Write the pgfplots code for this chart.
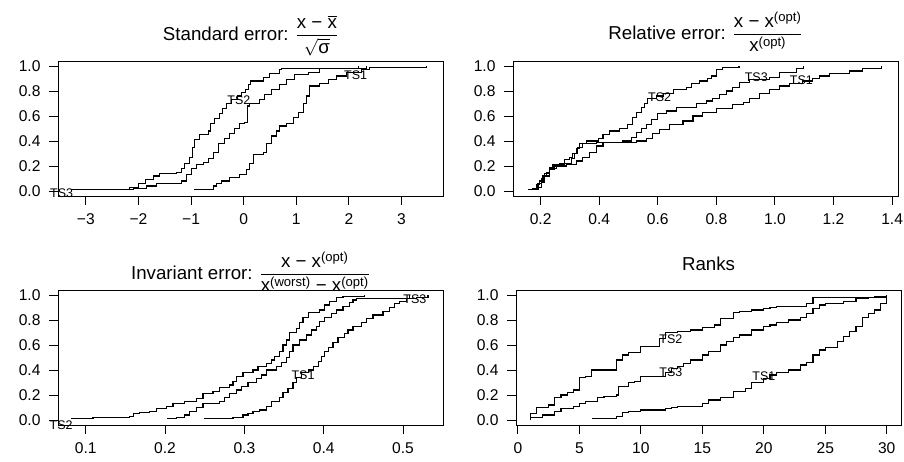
\documentclass[border=0pt]{standalone}
\usepackage{pgfplots}
\pgfplotsset{compat=1.18}
\usepackage{amsmath}
\usepackage{fontspec}
\setmainfont{Liberation Sans}
\newcommand{\tf}{\fontsize{18.7bp}{22bp}\selectfont}
\newcommand{\ff}{\fontsize{15.6bp}{18bp}\selectfont}
\newcommand{\lf}{\fontsize{12.5bp}{14bp}\selectfont}
\newcommand{\tx}[1]{\text{#1}}
\tikzset{
  lbl/.style={font=\lf, inner sep=0pt},
  ttl/.style={font=\tf, anchor=base, inner sep=0pt},
}
\pgfplotsset{
  rpanel/.style={
    scale only axis, width=385bp, height=135bp, anchor=north west,
    clip=false,
    axis line style={line width=1bp},
    tick align=outside, major tick length=9bp,
    xtick pos=left, ytick pos=left,
    tick style={black, line width=1bp},
    minor tick num=0,
    ymin=-0.04, ymax=1.04,
    ytick={0,0.2,0.4,0.6,0.8,1},
    yticklabels={0.0,0.2,0.4,0.6,0.8,1.0},
    tick label style={font=\ff},
    yticklabel style={xshift=-5bp},
    xticklabel style={yshift=-5bp},
  },
  ecdf/.style={black, const plot, line width=1.1bp, mark=none},
}
\begin{document}
\begin{tikzpicture}
\path[use as bounding box] (0bp,0bp) rectangle (904bp,-462bp);
% ---------------- Panel 1
\begin{axis}[rpanel, at={(58bp,-61bp)},
  xmin=-3.53, xmax=3.79,
  xtick={-3,-2,-1,0,1,2,3},
  xticklabels={−3,−2,−1,0,1,2,3}]
\addplot[ecdf] coordinates {
(-3.286,0.01)(-2.164,0.03)(-2.006,0.06)(-1.866,0.09)(-1.721,0.12)(-1.594,0.14)
(-1.277,0.15)(-1.182,0.18)(-1.119,0.22)(-1.036,0.27)(-0.973,0.35)(-0.928,0.41)
(-0.833,0.45)(-0.675,0.48)(-0.624,0.54)(-0.548,0.58)(-0.453,0.62)(-0.402,0.66)
(-0.326,0.70)(-0.231,0.73)(-0.124,0.76)(-0.041,0.79)(0.041,0.81)(0.086,0.85)
(0.130,0.88)(0.371,0.91)(0.497,0.94)(0.688,0.97)(0.719,0.98)(2.335,1.0)};
\addplot[ecdf] coordinates {
(-2.608,0.01)(-2.101,0.02)(-1.847,0.04)(-1.657,0.06)(-1.182,0.08)(-1.087,0.13)
(-0.992,0.18)(-0.897,0.21)(-0.770,0.23)(-0.675,0.26)(-0.580,0.31)(-0.485,0.38)
(-0.358,0.42)(-0.263,0.46)(-0.168,0.50)(-0.073,0.54)(0.022,0.55)(0.067,0.68)
(0.117,0.70)(0.307,0.73)(0.402,0.77)(0.529,0.81)(0.688,0.85)(0.814,0.89)
(0.973,0.93)(1.226,0.95)(1.448,0.98)(2.177,1.0)};
\addplot[ecdf] coordinates {
(-0.941,0.01)(-0.580,0.04)(-0.516,0.06)(-0.421,0.08)(-0.263,0.11)(-0.073,0.13)
(0.054,0.17)(0.117,0.22)(0.181,0.29)(0.371,0.31)(0.434,0.38)(0.529,0.44)
(0.624,0.48)(0.675,0.52)(0.814,0.54)(0.941,0.59)(1.036,0.63)(1.131,0.70)
(1.195,0.76)(1.258,0.84)(1.448,0.86)(1.606,0.89)(1.765,0.92)(1.955,0.95)
(2.240,0.97)(2.398,0.99)(3.476,1.0)};
\node[lbl] at (axis cs:-3.46,-0.02) {TS3};
\node[lbl] at (axis cs:-0.09,0.73) {TS2};
\node[lbl] at (axis cs:2.13,0.93) {TS1};
\node[ttl, yshift=21bp] at (rel axis cs:0.5,1) {Standard error: $\dfrac{\tx{x − }\overline{\tx{x}}}{\rule{0pt}{14bp}\sqrt{\tx{σ}}}$};
\end{axis}
% ---------------- Panel 2
\begin{axis}[rpanel, at={(513bp,-61bp)},
  xmin=0.1056, xmax=1.42,
  xtick={0.2,0.4,0.6,0.8,1.0,1.2,1.4},
  xticklabels={0.2,0.4,0.6,0.8,1.0,1.2,1.4}]
\addplot[ecdf] coordinates {
(0.157,0.01)(0.174,0.02)(0.185,0.05)(0.197,0.08)(0.208,0.12)(0.219,0.15)
(0.231,0.19)(0.242,0.21)(0.265,0.22)(0.282,0.25)(0.299,0.27)(0.310,0.30)
(0.322,0.34)(0.333,0.38)(0.356,0.40)(0.396,0.42)(0.413,0.45)(0.436,0.48)
(0.470,0.50)(0.498,0.53)(0.513,0.59)(0.527,0.63)(0.544,0.67)(0.555,0.70)
(0.566,0.74)(0.595,0.76)(0.618,0.78)(0.652,0.81)(0.697,0.83)(0.714,0.86)
(0.743,0.88)(0.771,0.90)(0.782,0.92)(0.800,0.97)(0.822,0.99)(0.877,1.0)};
\addplot[ecdf] coordinates {
(0.157,0.01)(0.180,0.02)(0.191,0.06)(0.202,0.10)(0.214,0.14)(0.231,0.18)
(0.253,0.21)(0.282,0.22)(0.305,0.26)(0.316,0.30)(0.327,0.35)(0.344,0.38)
(0.390,0.39)(0.481,0.40)(0.509,0.43)(0.527,0.47)(0.544,0.50)(0.561,0.53)
(0.578,0.57)(0.600,0.62)(0.629,0.64)(0.663,0.67)(0.731,0.70)(0.765,0.72)
(0.788,0.74)(0.811,0.77)(0.834,0.80)(0.856,0.83)(0.879,0.87)(0.913,0.89)
(0.982,0.91)(1.016,0.95)(1.073,0.98)(1.098,1.0)};
\addplot[ecdf] coordinates {
(0.157,0.01)(0.191,0.03)(0.202,0.07)(0.214,0.12)(0.231,0.17)(0.248,0.20)
(0.288,0.21)(0.322,0.24)(0.344,0.27)(0.367,0.31)(0.390,0.36)(0.413,0.39)
(0.527,0.40)(0.561,0.42)(0.583,0.46)(0.606,0.49)(0.640,0.53)(0.686,0.56)
(0.720,0.60)(0.754,0.63)(0.800,0.66)(0.856,0.69)(0.891,0.71)(0.913,0.74)
(0.947,0.78)(0.982,0.81)(1.016,0.84)(1.050,0.86)(1.095,0.88)(1.129,0.90)
(1.152,0.92)(1.186,0.94)(1.255,0.96)(1.300,0.98)(1.365,1.0)};
\node[lbl] at (axis cs:0.606,0.75) {TS2};
\node[lbl] at (axis cs:0.936,0.91) {TS3};
\node[lbl] at (axis cs:1.09,0.89) {TS1};
\node[ttl, yshift=22bp] at (rel axis cs:0.5,1) {Relative error: $\dfrac{\tx{x − x}^{\tx{(opt)}}}{\rule{0pt}{14bp}\tx{x}^{\tx{(opt)}}}$};
\end{axis}
% ---------------- Panel 3
\begin{axis}[rpanel, at={(58bp,-290bp)},
  xmin=0.0651, xmax=0.5504,
  xtick={0.1,0.2,0.3,0.4,0.5},
  xticklabels={0.1,0.2,0.3,0.4,0.5}]
\addplot[ecdf] coordinates {
(0.0811,0.01)(0.1092,0.02)(0.1555,0.03)(0.1597,0.05)(0.1681,0.06)(0.1807,0.07)
(0.1891,0.09)(0.2017,0.11)(0.2101,0.13)(0.2248,0.15)(0.2395,0.17)(0.2479,0.21)
(0.2605,0.23)(0.2689,0.26)(0.2815,0.28)(0.2857,0.31)(0.2899,0.35)(0.2983,0.38)
(0.3109,0.40)(0.3172,0.43)(0.3277,0.45)(0.3340,0.48)(0.3382,0.51)(0.3445,0.55)
(0.3487,0.60)(0.3529,0.64)(0.3571,0.70)(0.3655,0.73)(0.3697,0.78)(0.3739,0.82)
(0.3803,0.86)(0.3950,0.88)(0.4013,0.92)(0.4076,0.95)(0.4160,0.98)(0.4244,0.99)
(0.4517,1.0)};
\addplot[ecdf] coordinates {
(0.2025,0.01)(0.2143,0.02)(0.2248,0.04)(0.2311,0.07)(0.2395,0.10)(0.2479,0.13)
(0.2689,0.15)(0.2752,0.18)(0.2815,0.21)(0.2899,0.24)(0.2962,0.27)(0.3046,0.30)
(0.3151,0.33)(0.3214,0.36)(0.3277,0.40)(0.3403,0.43)(0.3466,0.46)(0.3529,0.50)
(0.3571,0.55)(0.3613,0.60)(0.3697,0.64)(0.3782,0.68)(0.3845,0.72)(0.3908,0.75)
(0.3950,0.79)(0.4013,0.82)(0.4097,0.85)(0.4160,0.88)(0.4244,0.91)(0.4328,0.94)
(0.4370,0.96)(0.4412,0.97)(0.5084,1.0)};
\addplot[ecdf] coordinates {
(0.2492,0.01)(0.2857,0.02)(0.2983,0.04)(0.3046,0.05)(0.3109,0.07)(0.3193,0.08)
(0.3277,0.11)(0.3340,0.15)(0.3445,0.18)(0.3487,0.22)(0.3550,0.25)(0.3613,0.30)
(0.3655,0.34)(0.3718,0.38)(0.3803,0.40)(0.3866,0.43)(0.3929,0.47)(0.3971,0.51)
(0.4013,0.55)(0.4055,0.58)(0.4118,0.62)(0.4181,0.66)(0.4265,0.69)(0.4307,0.72)
(0.4370,0.75)(0.4475,0.78)(0.4538,0.81)(0.4622,0.84)(0.4748,0.87)(0.4832,0.90)
(0.4895,0.93)(0.4958,0.95)(0.5042,0.97)(0.5168,0.98)(0.5315,1.0)};
\node[lbl] at (axis cs:0.069,-0.04) {TS2};
\node[lbl] at (axis cs:0.374,0.36) {TS1};
\node[lbl] at (axis cs:0.515,0.97) {TS3};
\node[ttl, yshift=11bp] at (rel axis cs:0.5,1) {Invariant error: $\dfrac{\tx{x − x}^{\tx{(opt)}}}{\tx{x}^{\tx{(worst)}}\tx{ − x}^{\tx{(opt)}}}$};
\end{axis}
% ---------------- Panel 4
\begin{axis}[rpanel, at={(516bp,-290bp)},
  xmin=-0.16, xmax=31.16,
  xtick={0,5,10,15,20,25,30},
  xticklabels={0,5,10,15,20,25,30}]
\addplot[ecdf] coordinates {
(1,0.01)(1,0.05)(1.5,0.10)(2.5,0.12)(3,0.18)(3.5,0.20)(4,0.22)(4.5,0.24)
(5,0.34)(5.5,0.35)(6,0.40)(8,0.48)(8.5,0.52)(9,0.54)(10,0.59)(11.5,0.65)
(12,0.70)(13,0.71)(14,0.72)(15,0.74)(16,0.76)(16.5,0.81)(17.5,0.86)(18,0.87)
(19,0.88)(20,0.89)(20.5,0.90)(21,0.91)(23.5,0.93)(24,0.98)(29,0.99)(30,1.0)};
\addplot[ecdf] coordinates {
(1,0.00)(1,0.02)(2,0.04)(3,0.07)(3.5,0.09)(4.5,0.11)(5,0.13)(5.5,0.15)
(6.5,0.18)(7,0.19)(8,0.20)(8.2,0.27)(9,0.30)(9.5,0.31)(10,0.35)(12,0.38)
(12.5,0.41)(13,0.43)(13.5,0.45)(14,0.48)(15,0.52)(15.5,0.55)(16.5,0.60)
(17,0.63)(17.5,0.66)(18,0.68)(19,0.72)(20,0.75)(20.5,0.76)(21,0.78)(22,0.80)
(23,0.82)(23.5,0.85)(24,0.89)(24.5,0.92)(25,0.93)(26.5,0.95)(27.5,0.97)
(28.5,0.98)(30,1.0)};
\addplot[ecdf] coordinates {
(6,0.01)(8,0.03)(8.5,0.06)(9,0.07)(10,0.08)(12,0.09)(12.5,0.10)(13,0.11)
(15,0.13)(15.5,0.16)(16.5,0.18)(17.5,0.23)(18.5,0.25)(19,0.30)(20,0.33)
(20.5,0.36)(21,0.38)(22,0.40)(23,0.44)(23.5,0.46)(24,0.52)(24.5,0.56)(25,0.58)
(26,0.63)(26.5,0.67)(27,0.71)(27.5,0.75)(28,0.82)(28.5,0.85)(29,0.88)
(29.5,0.93)(30,0.96)(30,1.0)};
\node[lbl] at (axis cs:12.44,0.65) {TS2};
\node[lbl] at (axis cs:12.44,0.38) {TS3};
\node[lbl] at (axis cs:20.0,0.35) {TS1};
\node[ttl, yshift=20bp] at (rel axis cs:0.5,1) {Ranks};
\end{axis}
\end{tikzpicture}
\end{document}
